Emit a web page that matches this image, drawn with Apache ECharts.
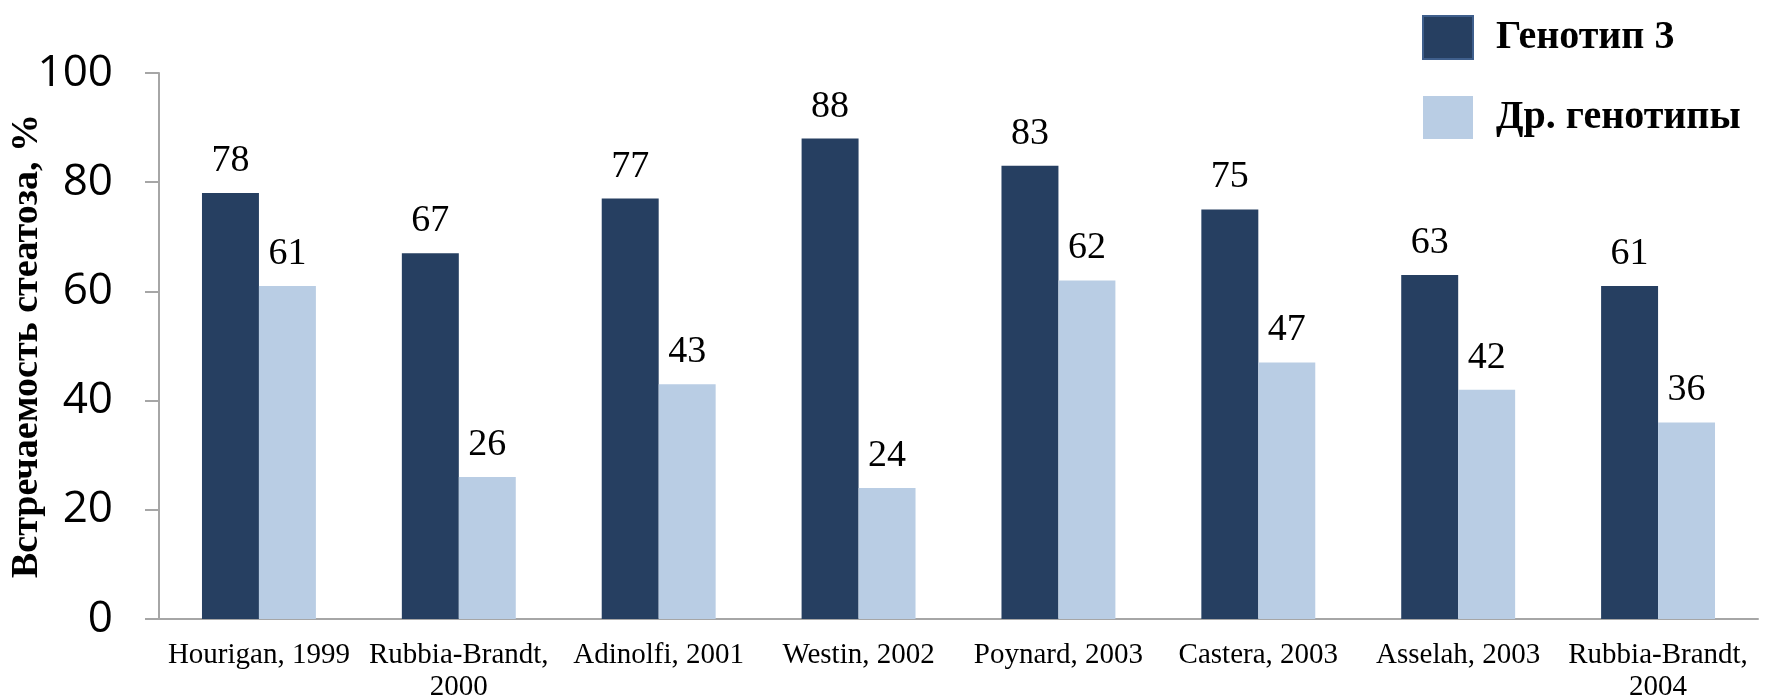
<!DOCTYPE html>
<html>
<head>
<meta charset="utf-8">
<script src="https://cdn.jsdelivr.net/npm/echarts@6/dist/echarts.min.js"></script>
<style>
  html, body { margin: 0; padding: 0; background: #ffffff; }
  #chart { width: 1765px; height: 700px; }
</style>
</head>
<body>
<div id="chart"></div>
<script>
// Studies (author, year)
const studies = [
  'Hourigan, 1999',
  'Rubbia-Brandt,\n2000',
  'Adinolfi, 2001',
  'Westin, 2002',
  'Poynard, 2003',
  'Castera, 2003',
  'Asselah, 2003',
  'Rubbia-Brandt,\n2004'
];
// Steatosis prevalence, %
const genotype3 = [78, 67, 77, 88, 83, 75, 63, 61];
const otherGenotypes = [61, 26, 43, 24, 62, 47, 42, 36];
const seriesNames = ['Генотип 3', 'Др. генотипы'];
const yAxisTitle = 'Встречаемость стеатоза, %';

const DARK = '#263f61';
const LIGHT = '#b9cde4';
const SERIF = '"Liberation Serif", "DejaVu Serif", serif';

const chart = echarts.init(document.getElementById('chart'), null, { renderer: 'canvas' });

const labelStyle = {
  show: true,
  position: 'top',
  distance: 13,
  color: '#000',
  fontFamily: SERIF,
  fontSize: 38
};

chart.setOption({
  animation: false,
  backgroundColor: '#ffffff',
  grid: {
    left: 159, right: 7, top: 73, bottom: 81,
    containLabel: false,
    outerBoundsMode: 'none'
  },
  legend: {
    orient: 'vertical',
    left: 1417,
    top: 10,
    itemWidth: 50,
    itemHeight: 43,
    itemGap: 36,
    icon: 'rect',
    textStyle: {
      fontFamily: SERIF,
      fontWeight: 'bold',
      fontSize: 40,
      color: '#000',
      padding: [0, 0, 0, 18]
    },
    data: [
      { name: seriesNames[0], itemStyle: { color: DARK, borderColor: '#3f5f8c', borderWidth: 2 } },
      { name: seriesNames[1], itemStyle: { color: LIGHT } }
    ]
  },
  xAxis: {
    type: 'category',
    data: studies,
    axisLine: { show: true, lineStyle: { color: '#a6a6a6', width: 2 } },
    axisTick: { show: false },
    axisLabel: {
      color: '#000',
      fontFamily: SERIF,
      fontSize: 29,
      lineHeight: 32,
      margin: 20,
      interval: 0
    }
  },
  yAxis: {
    type: 'value',
    min: 0,
    max: 100,
    interval: 20,
    name: yAxisTitle,
    nameLocation: 'middle',
    nameGap: 113,
    nameMoveOverlap: false,
    nameTextStyle: {
      fontFamily: SERIF,
      fontWeight: 'bold',
      fontSize: 38,
      color: '#000'
    },
    axisLine: { show: true, lineStyle: { color: '#a6a6a6', width: 2 } },
    axisTick: { show: true, inside: false, length: 14, lineStyle: { color: '#a6a6a6', width: 2 } },
    splitLine: { show: false },
    axisLabel: {
      color: '#000',
      fontFamily: '"Open Sans", "Noto Sans", sans-serif',
      fontSize: 44,
      margin: 46
    }
  },
  series: [
    {
      name: seriesNames[0],
      type: 'bar',
      data: genotype3,
      barGap: '0%',
      barCategoryGap: '43%',
      itemStyle: { color: DARK },
      label: labelStyle
    },
    {
      name: seriesNames[1],
      type: 'bar',
      data: otherGenotypes,
      itemStyle: { color: LIGHT },
      label: labelStyle
    }
  ]
});
</script>
</body>
</html>
